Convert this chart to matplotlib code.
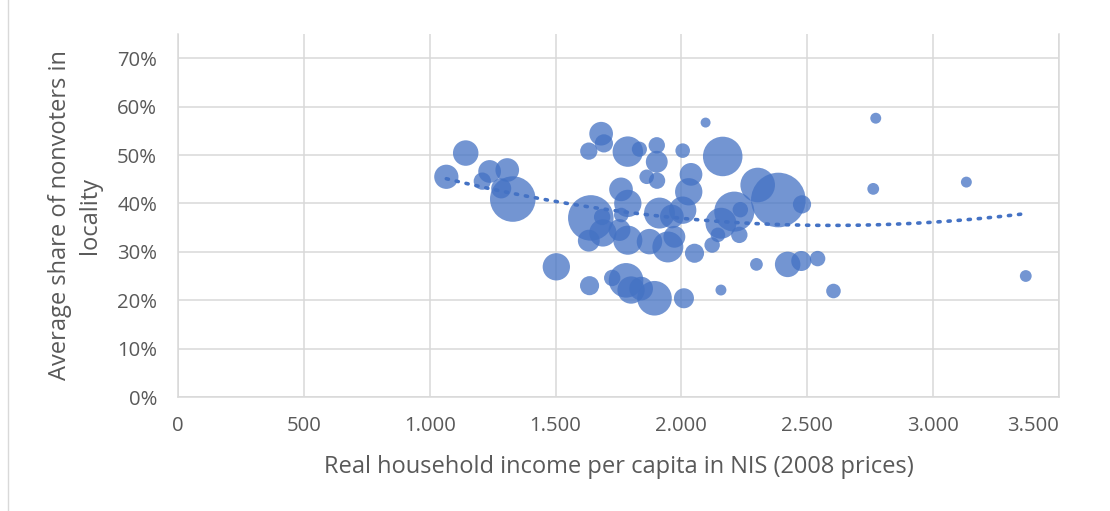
import numpy as np
import matplotlib
matplotlib.use('Agg')
import matplotlib.pyplot as plt
from matplotlib.ticker import FuncFormatter

# --- Data ---
income = [1066, 1143, 1238, 1308, 1209, 1284, 1330, 1503, 1635, 1640,
          1681, 1692, 1632, 1787, 1833, 1902, 1902, 1862, 1903, 1760,
          1787, 1632, 1688, 1754, 1787, 1873, 1946, 1972, 2052, 1725,
          1780, 1800, 1840, 1893, 2010, 1913, 1962, 1761, 1685, 2005,
          2005, 2096, 2038, 2029, 2164, 2303, 2385, 2479, 2210, 2234,
          2157, 2145, 2230, 2122, 2298, 2422, 2476, 2541, 2157, 2604,
          2772, 2762, 3132, 3368]
nonvoters = [45.5, 50.4, 46.6, 46.9, 44.6, 43.1, 40.9, 26.9, 23.0, 37.0,
             54.4, 52.4, 50.8, 50.7, 51.2, 52.0, 48.6, 45.5, 44.7, 42.9,
             40.0, 32.3, 33.9, 34.5, 32.4, 32.1, 31.0, 33.1, 29.7, 24.6,
             24.1, 22.1, 22.4, 20.4, 20.4, 38.0, 37.3, 37.6, 37.2, 38.6,
             50.9, 56.7, 46.0, 42.4, 49.7, 43.8, 40.7, 39.8, 38.3, 38.7,
             35.9, 33.5, 33.5, 31.4, 27.4, 27.4, 28.1, 28.6, 22.1, 21.9,
             57.6, 43.0, 44.4, 25.0]
# bubble size (relative population weight)
weight = [177, 196, 156, 169, 90, 121, 625, 225, 110, 625,
          169, 100, 90, 279, 69, 81, 144, 64, 81, 169,
          225, 144, 225, 144, 256, 196, 289, 144, 110, 81,
          361, 225, 169, 361, 121, 289, 169, 64, 81, 225,
          64, 30, 156, 225, 471, 361, 900, 100, 484, 72,
          289, 64, 81, 72, 49, 196, 121, 72, 36, 64,
          36, 42, 36, 42]
x_ticks = [0, 500, 1000, 1500, 2000, 2500, 3000, 3500]
y_ticks = [0, 0.1, 0.2, 0.3, 0.4, 0.5, 0.6, 0.7]

x = np.array(income, dtype=float)
y = np.array(nonvoters) / 100.0
s = np.array(weight) * 1.72

blue = '#4472C4'
grid_c = '#D9D9D9'
text_c = '#595959'

plt.rcParams['font.family'] = ['Open Sans', 'DejaVu Sans']

fig = plt.figure(figsize=(11.1, 5.11), dpi=100)
ax = fig.add_axes([178 / 1110, 1 - 397 / 511, (1059 - 178) / 1110, (397 - 34) / 511])

order = np.argsort(-s)
ax.scatter(x[order], y[order], s=s[order], color=blue, alpha=0.75,
           edgecolors='none', zorder=3)

# polynomial (order 2) trendline
coef = np.polyfit(x, y, 2)
xt = np.linspace(x.min(), x.max(), 200)
ax.plot(xt, np.polyval(coef, xt), linestyle=(0, (0.6, 2.2)), color=blue,
        linewidth=2.6, dash_capstyle='round', zorder=4)

ax.set_xlim(0, 3500)
ax.set_ylim(0, 0.75)
ax.set_xticks(x_ticks)
ax.set_yticks(y_ticks)
ax.xaxis.set_major_formatter(FuncFormatter(lambda v, p: f'{int(v):,}'.replace(',', '.')))
ax.yaxis.set_major_formatter(FuncFormatter(lambda v, p: f'{v * 100:.0f}%'))

ax.grid(True, color=grid_c, linewidth=1.1, zorder=0)
ax.set_axisbelow(True)
ax.spines['top'].set_visible(False)
for side in ['left', 'bottom', 'right']:
    ax.spines[side].set_color(grid_c)
    ax.spines[side].set_linewidth(1.1)

ax.tick_params(length=0, labelsize=14.6, labelcolor=text_c)
ax.tick_params(axis='y', pad=15)
ax.tick_params(axis='x', pad=14)

ax.set_xlabel('Real household income per capita in NIS (2008 prices)',
              fontsize=17, color=text_c)
ax.xaxis.label.set_va('center')
ax.xaxis.set_label_coords(0.5, (397 - 467) / 363)
ax.set_ylabel('Average share of nonvoters in\nlocality', fontsize=17,
              color=text_c, linespacing=1.3)
ax.yaxis.label.set_va('center')
ax.yaxis.set_label_coords((75 - 178) / 881, 0.5)

# chart area frame (left edge)
fig.add_artist(plt.Line2D([8 / 1110, 8 / 1110], [0, 1], color=grid_c,
                          linewidth=1, transform=fig.transFigure))

# last x label sits inside the chart, like Excel does
fig.canvas.draw()
for t in ax.xaxis.get_major_ticks():
    if t.label1.get_text() == '3.500':
        t.label1.set_horizontalalignment('right')

fig.savefig('out.png', dpi=100)
